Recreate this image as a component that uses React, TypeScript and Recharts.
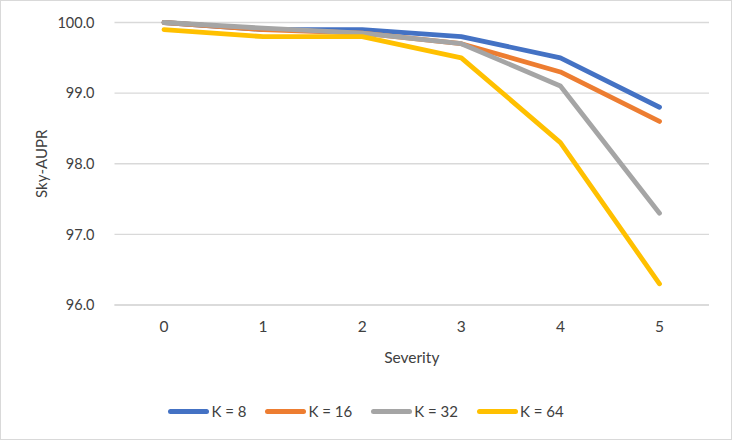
import { LineChart, Line, XAxis, YAxis, CartesianGrid } from 'recharts'

const severity = [0, 1, 2, 3, 4, 5]
const k8 = [100.0, 99.9, 99.9, 99.8, 99.5, 98.8]
const k16 = [100.0, 99.9, 99.85, 99.7, 99.3, 98.6]
const k32 = [100.0, 99.92, 99.85, 99.7, 99.1, 97.3]
const k64 = [99.9, 99.8, 99.8, 99.5, 98.3, 96.3]
const yTicks = [96, 97, 98, 99, 100]

const series = [
  { key: 'k8', name: 'K = 8', color: '#4472C4', values: k8 },
  { key: 'k16', name: 'K = 16', color: '#ED7D31', values: k16 },
  { key: 'k32', name: 'K = 32', color: '#A5A5A5', values: k32 },
  { key: 'k64', name: 'K = 64', color: '#FFC000', values: k64 },
]

const data = severity.map((s, i) => {
  const row: Record<string, number> = { severity: s }
  series.forEach((sr) => { row[sr.key] = sr.values[i] })
  return row
})

const FONT = 'Lato, "Liberation Sans", sans-serif'
const TEXT = '#404040'

function YTitle({ viewBox }: any) {
  const cy = viewBox.y + viewBox.height / 2
  return (
    <text x={41} y={cy} transform={`rotate(-90 41 ${cy})`} textAnchor="middle"
      dominantBaseline="central" fontSize={15} fill={TEXT} fontFamily={FONT}>
      Sky-AUPR
    </text>
  )
}

function XTitle({ viewBox }: any) {
  const cx = viewBox.x + viewBox.width / 2
  return (
    <text x={cx} y={357} textAnchor="middle" dominantBaseline="central"
      fontSize={15.5} fill={TEXT} fontFamily={FONT}>
      Severity
    </text>
  )
}

export default function App() {
  return (
    <div style={{ position: 'absolute', left: 0, top: 0, width: 732, height: 440, background: '#fff', fontFamily: FONT }}>
      <div style={{ position: 'absolute', left: 0, top: 0, width: 732, height: 440, border: '1.5px solid #d9d9d9', boxSizing: 'border-box' }} />
      <LineChart width={732} height={440} data={data}
        margin={{ top: 22.5, right: 23, left: 0, bottom: 0 }}
        style={{ position: 'absolute', left: 0, top: 0 }}>
        <CartesianGrid vertical={false} stroke="#d9d9d9" strokeWidth={1.3} />
        <XAxis dataKey="severity" type="category" height={135} padding={{ left: 49.5, right: 49.5 }}
          axisLine={{ stroke: '#d9d9d9', strokeWidth: 1.3 }}
          tickLine={false} tickMargin={10} tick={{ fontSize: 15.5, fill: TEXT, fontFamily: FONT }}
          label={<XTitle />} />
        <YAxis width={114.5} domain={[96, 100]} ticks={yTicks} axisLine={false} tickLine={false}
          tickMargin={14} tickFormatter={(v: number) => v.toFixed(1)}
          tick={{ fontSize: 14.5, fill: TEXT, fontFamily: FONT }} label={<YTitle />} />
        {series.map((s) => (
          <Line key={s.key} dataKey={s.key} name={s.name} stroke={s.color} strokeWidth={4.8}
            strokeLinecap="round" strokeLinejoin="round" dot={false} activeDot={false}
            type="linear" isAnimationActive={false} />
        ))}
      </LineChart>
      <div style={{ position: 'absolute', left: 0, top: 401, width: 732, display: 'flex', justifyContent: 'center', alignItems: 'center' }}>
        {series.map((s, i) => (
          <div key={s.key} style={{ display: 'flex', alignItems: 'center', marginLeft: i === 0 ? 0 : 19 }}>
            <div style={{ width: 41, height: 5, borderRadius: 3, background: s.color, marginRight: 2 }} />
            <span style={{ fontSize: 15, color: TEXT, lineHeight: '20px' }}>{s.name}</span>
          </div>
        ))}
      </div>
    </div>
  )
}
